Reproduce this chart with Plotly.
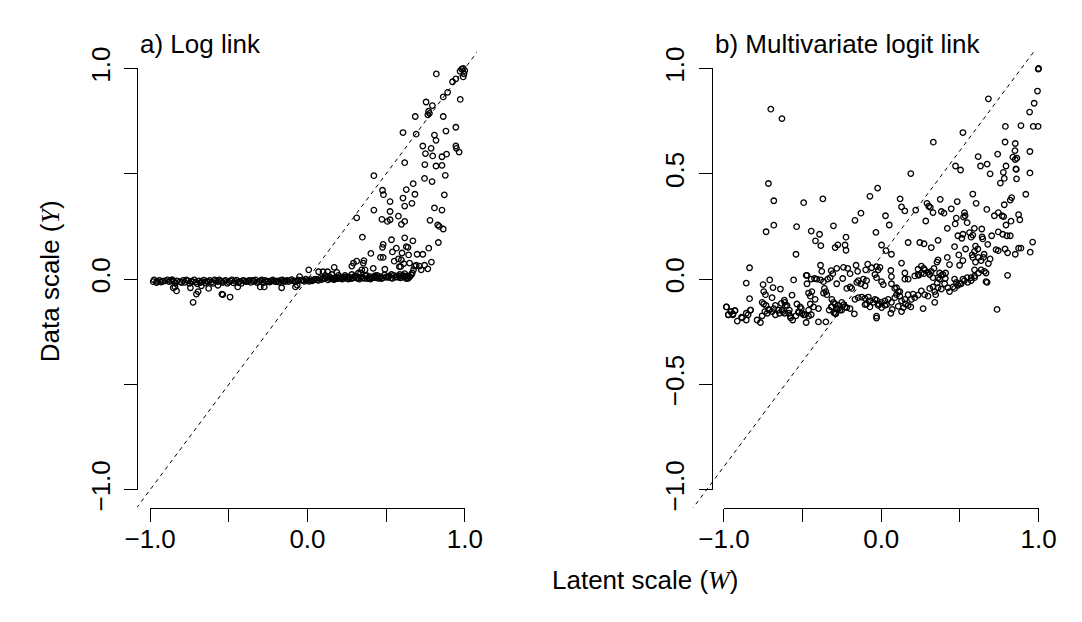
import plotly.graph_objects as go

W, H = 1082, 622
FONT = "Liberation Sans, Arial, Helvetica, sans-serif"

# ---------------- data ----------------
log_band = [(-0.98,-0.012),(-0.96,-0.016),(-0.94,-0.006),(-0.92,-0.01),(-0.89,-0.004),(-0.87,-0.008),(-0.85,-0.01),(-0.84,-0.02),
            (-0.81,-0.012),(-0.79,-0.006),(-0.78,-0.015),(-0.76,-0.008),(-0.75,-0.02),(-0.74,-0.01),(-0.72,-0.004),(-0.71,-0.014),
            (-0.70,-0.022),(-0.69,-0.008),(-0.67,-0.012),(-0.66,-0.005),(-0.65,-0.018),(-0.64,-0.01),(-0.62,-0.006),(-0.61,-0.014),
            (-0.60,-0.02),(-0.58,-0.008),(-0.57,-0.012),(-0.56,-0.004),(-0.54,-0.016),(-0.53,-0.01),(-0.52,-0.006),(-0.50,-0.014),
            (-0.49,-0.008),(-0.47,-0.018),(-0.46,-0.01),(-0.45,-0.005),(-0.43,-0.012),(-0.42,-0.02),(-0.40,-0.008),(-0.39,-0.012),
            (-0.37,-0.006),(-0.36,-0.015),(-0.34,-0.01),(-0.33,-0.004),(-0.31,-0.012),(-0.30,-0.008),(-0.28,-0.016),(-0.27,-0.006),
            (-0.25,-0.01),(-0.24,-0.014),(-0.22,-0.004),(-0.21,-0.01),(-0.19,-0.008),(-0.18,-0.014),(-0.16,-0.004),(-0.15,-0.01),
            (-0.13,-0.006),(-0.12,-0.012),(-0.10,-0.002),(-0.09,-0.008),(-0.07,-0.01),(-0.06,-0.004),(-0.05,0.012),(-0.04,-0.006),
            (-0.02,-0.01),(-0.01,0.0),(0.0,-0.006),(0.02,-0.002),(0.03,-0.008),(0.05,0.0),(0.06,-0.004),(0.08,0.004),(0.09,-0.002),
            (0.11,0.002),(0.12,0.008),(0.13,-0.004),(0.15,0.004),(0.16,0.0),(0.18,0.008),(0.19,0.002),(0.21,0.006),(0.22,0.0),
            (0.24,0.01),(0.25,0.004),(0.27,0.008),(0.28,0.002),(0.30,0.012),(0.31,0.006),(0.33,0.0),(0.34,0.01),(0.36,0.004),
            (0.37,0.014),(0.39,0.006),(0.40,0.0),(0.42,0.01),(0.43,0.016),(0.45,0.004),(0.46,0.012),(0.48,0.006),(0.49,0.02),
            (0.51,0.008),(0.52,0.014),(0.54,0.004),(0.55,0.018),(0.57,0.01),(0.59,0.006),(0.61,0.016),(0.62,0.01),(0.64,0.004),
            (0.65,0.012),
            (-0.975,-0.004),(-0.955,-0.01),(-0.93,-0.014),(-0.905,-0.008),(-0.88,-0.012),(-0.86,-0.003),(-0.83,-0.008),(-0.80,-0.016),
            (-0.77,-0.004),(-0.73,-0.012),(-0.68,-0.016),(-0.63,-0.012),(-0.59,-0.004),(-0.55,-0.01),(-0.51,-0.02),(-0.48,-0.004),
            (-0.44,-0.016),(-0.41,-0.006),(-0.38,-0.01),(-0.35,-0.006),(-0.32,-0.016),(-0.29,-0.004),(-0.26,-0.012),(-0.23,-0.008),
            (-0.20,-0.012),(-0.17,-0.006),(-0.14,-0.01),(-0.11,-0.006),(-0.08,-0.012),(-0.03,-0.004),(0.01,-0.01),(0.04,-0.004),
            (0.07,-0.006),(0.10,0.004),(0.14,0.002),(0.17,-0.002),(0.20,0.004),(0.23,0.004),(0.26,0.0),(0.29,0.006),(0.32,0.004),
            (0.35,0.006),(0.38,0.002),(0.41,0.006),(0.44,0.008),(0.47,0.002),(0.50,0.01),(0.53,0.006),(0.56,0.01),(0.58,0.014),
            (0.60,0.008),(0.63,0.014),(0.66,0.02),
            (0.113,0.018),(0.141,0.012),(0.155,0.022),(0.176,0.003),(0.197,0.018),(0.218,0.007),(0.239,0.018),(0.261,0.010),
            (0.282,0.022),(0.303,0.015),(0.324,0.029),(0.376,0.018),(0.397,0.012),(0.429,0.007),(0.443,0.018),(0.460,0.007),
            (0.513,0.012),(0.534,0.022)]
log_below = [(-0.842,-0.037),(-0.832,-0.056),(-0.853,-0.041),(-0.727,-0.110),(-0.695,-0.059),(-0.706,-0.071),(-0.744,-0.041),
             (-0.628,-0.044),(-0.538,-0.074),(-0.544,-0.071),(-0.492,-0.085),(-0.443,-0.037),(-0.164,-0.041),(-0.300,-0.037),
             (-0.275,-0.037),(-0.076,-0.037),(-0.065,-0.029),(-0.674,-0.032),(-0.569,-0.029)]
log_upper = [(0.819,0.974),(0.99,1.0),(0.98,0.997),(0.97,0.987),(1.0,0.99),(0.995,0.975),(0.99,0.96),(0.943,0.951),(0.922,0.937),
             (0.891,0.887),(0.863,0.865),(0.971,0.853),(0.754,0.841),(0.794,0.824),(0.77,0.797),(0.775,0.787),(0.765,0.78),
             (0.685,0.772),(0.863,0.772),(0.943,0.721),(0.880,0.703),(0.607,0.696),(0.691,0.688),(0.807,0.684),(0.817,0.659),
             (0.733,0.632),(0.786,0.621),(0.943,0.632),(0.947,0.621),(0.964,0.603),(0.750,0.596),(0.796,0.585),(0.855,0.581),
             (0.884,0.593),(0.618,0.553),(0.746,0.544),(0.817,0.537),(0.855,0.540),(0.422,0.491),(0.876,0.493),(0.744,0.478),
             (0.792,0.463),(0.672,0.453),(0.477,0.422),(0.628,0.425),(0.483,0.401),(0.683,0.403),(0.870,0.400),(0.607,0.385),
             (0.664,0.360),(0.525,0.368),(0.618,0.347),(0.807,0.338),(0.855,0.328),(0.422,0.328),(0.313,0.291),(0.525,0.321),
             (0.578,0.299),(0.473,0.284),(0.508,0.274),(0.525,0.282),(0.618,0.274),(0.597,0.260),(0.779,0.279),(0.828,0.257),
             (0.838,0.250),(0.863,0.238),(0.349,0.199),(0.618,0.196),(0.534,0.187),(0.670,0.182),(0.832,0.174),(0.481,0.165),
             (0.477,0.151),(0.565,0.147),(0.628,0.154),(0.639,0.151),(0.771,0.147),(0.540,0.129),(0.601,0.124),(0.403,0.122),
             (0.643,0.115),(0.697,0.118),(0.733,0.118),(0.464,0.103),(0.481,0.103),(0.578,0.096),(0.597,0.091),(0.551,0.085),
             (0.313,0.085),(0.359,0.088),(0.355,0.076),(0.612,0.074),(0.649,0.076),(0.788,0.081),(0.584,0.059),(0.592,0.059),
             (0.681,0.062),(0.691,0.066),(0.712,0.062),(0.744,0.066),(0.765,0.049),(0.282,0.062),(0.292,0.076),(0.170,0.056),
             (0.187,0.032),(0.008,0.044),(0.071,0.035),(0.099,0.035),(0.128,0.035),(0.418,0.051),(0.492,0.047),(0.345,0.044),
             (0.366,0.044),(0.338,0.029),(0.674,0.044),(0.666,0.029),(0.723,0.044),(0.618,0.026),(0.639,0.015),(0.649,0.012),
             (0.628,0.003),(0.586,0.022),(0.607,0.015)]

logit_upper = [(1.0,1.0),(0.998,0.997),(0.993,0.893),(0.972,0.835),(0.943,0.793),(0.681,0.856),(-0.702,0.807),(-0.631,0.762),
               (0.789,0.725),(0.888,0.729),(0.966,0.725),(0.997,0.725),(0.519,0.696),(0.331,0.650),(0.787,0.651),(0.852,0.644),
               (0.850,0.610),(0.945,0.606),(0.740,0.593),(0.616,0.582),(0.837,0.579),(0.852,0.568),(0.862,0.574),(0.673,0.546),
               (0.631,0.537),(0.793,0.537),(0.858,0.521),(0.856,0.523),(0.472,0.537),(0.504,0.518),(0.776,0.507),(0.945,0.504),
               (0.188,0.501),(0.692,0.500),(0.782,0.478),(0.757,0.456),(0.860,0.476),(-0.717,0.454),(-0.023,0.432),(-0.072,0.393),
               (0.919,0.403),(0.582,0.404),(-0.683,0.372),(-0.493,0.363),(-0.371,0.381),(0.120,0.381),(0.375,0.379),(0.483,0.368),
               (0.829,0.387),(0.820,0.375),(0.782,0.353),(0.291,0.360),(0.302,0.346),(0.312,0.341),(0.129,0.343),(0.150,0.324),
               (0.219,0.328),(0.445,0.334),(0.603,0.360),(0.671,0.331),(0.329,0.316),(0.382,0.321),(0.399,0.313),(0.529,0.316),
               (0.533,0.301),(0.523,0.294),(0.719,0.301),(0.744,0.316),(0.768,0.301),(0.778,0.297),(0.873,0.306),(0.881,0.282),
               (-0.129,0.313),(0.027,0.301),(-0.167,0.279),(0.477,0.290),(0.470,0.262),(0.283,0.276),(0.546,0.268),(0.825,0.275),
               (0.051,0.257),(0.793,0.257),(-0.683,0.256),(-0.732,0.225),(-0.538,0.249),(-0.304,0.253),(0.420,0.241),(0.592,0.241),
               (0.639,0.238),(-0.034,0.222),(-0.445,0.228),(-0.392,0.213),(0.519,0.213),(0.561,0.221),(0.571,0.199),(0.582,0.209),
               (0.744,0.224),(0.772,0.213),(0.799,0.206),(0.820,0.206),(0.702,0.206),(0.641,0.201),(0.645,0.191),(0.487,0.206),
               (0.512,0.194),(-0.224,0.199),(-0.418,0.182),(0.361,0.184),(0.171,0.174),(0.245,0.174),(0.272,0.168),(0.318,0.150),
               (-0.384,0.159),(-0.293,0.150),(-0.276,0.163),(-0.230,0.162),(-0.224,0.137),(0.677,0.165),(0.962,0.176),(0.002,0.162),
               (0.466,0.154),(0.599,0.157),(0.614,0.143),(0.593,0.132),(0.536,0.143),(0.730,0.140),(0.744,0.135),(0.787,0.143),
               (0.803,0.125),(0.873,0.147),(0.888,0.147),(0.852,0.118),(0.947,0.128),(0.030,0.135),(0.065,0.118),(-0.542,0.118),
               (0.493,0.115),(0.519,0.088),(0.498,0.066),(0.578,0.115),(0.582,0.103),(0.618,0.103),(0.635,0.088),(0.599,0.081),
               (0.593,0.044),(0.650,0.103),(0.654,0.118),(0.692,0.096),(0.681,0.074),(0.361,0.091),(0.354,0.081),(0.420,0.103),
               (0.434,0.069),(0.129,0.076),(0.255,0.062),(0.234,0.047),(0.270,0.051),(-0.160,0.066),(-0.150,0.037),(-0.386,0.066),
               (-0.283,0.051),(-0.240,0.056),(0.061,0.041),(0.065,0.012),(0.150,0.029),(0.297,0.032),(0.318,0.037),(0.335,0.051),
               (0.238,0.018),(0.272,0.026),(0.371,0.029),(0.382,0.018),(0.361,0.007),(0.409,0.029),(0.666,0.029),(0.673,-0.015),
               (0.803,0.018),(0.736,-0.144),(0.346,-0.074)]
logit_middle = [(-0.086,0.071),(-0.061,0.054),(-0.030,0.059),(-0.019,0.044),(-0.008,0.056),(-0.099,0.044),(-0.114,0.0),(-0.093,-0.007),
                (-0.040,0.022),(-0.030,0.007),(0.002,-0.012),(0.013,-0.026),(-0.129,-0.022),(-0.103,-0.032),(0.065,-0.022),
                (0.086,-0.044),(0.097,-0.041),(0.118,-0.059),(0.150,0.0),(0.171,0.0),(0.213,0.015),(0.234,0.022),(0.255,0.029),
                (0.276,0.044),(0.308,0.022),(0.329,0.007),(0.356,-0.018),(0.371,0.0),(0.392,0.022),(0.407,0.003),(0.466,0.0),
                (0.477,-0.015),(0.498,-0.022),(0.519,0.0),(0.546,0.007),(0.572,0.007),(0.593,0.015),(0.618,0.029),(0.635,0.044),
                (0.656,0.037),(0.666,-0.012),(-0.472,0.018),(-0.445,0.0),(-0.213,0.051),(-0.198,0.026),(-0.318,0.040),(-0.308,0.026),
                (-0.985,-0.132),(-0.972,-0.169),(-0.955,-0.154),(-0.943,-0.169),(-0.930,-0.150),(-0.858,-0.019),(-0.837,0.054),
                (-0.837,-0.093),(-0.831,-0.147),(-0.884,-0.184),(-0.858,-0.162),(-0.751,-0.026),(-0.709,-0.004),(-0.747,-0.059),
                (-0.736,-0.074),(-0.757,-0.110),(-0.747,-0.118),(-0.732,-0.125),(-0.715,-0.144),(-0.694,-0.154),(-0.688,-0.040),
                (-0.694,-0.088),(-0.673,-0.125),(-0.652,-0.147),(-0.635,-0.115),(-0.641,-0.047),(-0.616,-0.100),(-0.614,-0.110),
                (-0.609,-0.125),(-0.626,-0.154),(-0.588,-0.162),(-0.567,-0.076),(-0.557,-0.004),(-0.536,-0.118),(-0.515,-0.132),
                (-0.525,-0.154),(-0.504,-0.162),(-0.578,-0.176),(-0.477,0.018),(-0.472,-0.022),(-0.462,-0.066),(-0.451,-0.081),
                (-0.441,-0.059),(-0.424,0.003),(-0.409,0.0),(-0.386,-0.004),(-0.367,-0.012),(-0.340,0.0),(-0.325,0.007),
                (-0.378,0.037),(-0.361,-0.044),(-0.352,-0.059),(-0.367,-0.066),(-0.346,-0.074),(-0.420,-0.096),(-0.451,-0.118),
                (-0.430,-0.132),(-0.399,-0.140),(-0.462,-0.147),(-0.483,-0.169),(-0.314,-0.096),(-0.304,-0.110),(-0.293,-0.118),
                (-0.272,-0.125),(-0.251,-0.110),(-0.230,-0.132),(-0.318,-0.132),(-0.283,-0.140),(-0.262,-0.147),(-0.293,-0.162),
                (-0.245,0.003),(-0.283,-0.022),(-0.219,-0.044),(-0.198,-0.037),(-0.188,-0.044),(-0.156,-0.015),(-0.146,-0.007)]
logit_lower = [(-0.167,-0.096),(-0.146,-0.088),(-0.124,-0.085),(-0.103,-0.091),(-0.082,-0.085),(-0.072,-0.103),(-0.093,-0.118),
               (-0.051,-0.110),(-0.040,-0.096),(-0.030,-0.100),(-0.015,-0.118),(0.002,-0.110),(0.023,-0.103),(0.034,-0.121),
               (0.044,-0.096),(0.065,-0.110),(0.086,-0.088),(0.097,-0.074),(0.108,-0.059),(0.118,-0.081),(0.129,-0.103),
               (0.150,-0.096),(0.171,-0.074),(0.192,-0.096),(0.202,-0.071),(0.213,-0.088),(0.234,-0.076),(0.255,-0.056),
               (0.276,-0.074),(0.297,-0.081),(0.308,-0.044),(0.329,-0.037),(0.340,-0.059),(0.361,-0.041),(0.382,-0.047),
               (0.403,-0.022),(0.424,-0.041),(0.434,-0.059),(0.456,-0.037),(0.466,-0.044),(0.487,-0.029),(0.508,-0.022),
               (0.529,-0.007),(0.550,-0.015),(0.572,-0.007),(0.593,0.007),
               (-0.983,-0.132),(-0.972,-0.169),(-0.957,-0.154),(-0.943,-0.165),(-0.930,-0.150),(-0.915,-0.199),(-0.888,-0.181),
               (-0.858,-0.194),(-0.846,-0.169),(-0.831,-0.147),(-0.789,-0.194),(-0.768,-0.206),(-0.757,-0.174),(-0.740,-0.154),
               (-0.725,-0.162),(-0.711,-0.147),(-0.683,-0.140),(-0.673,-0.169),(-0.647,-0.162),(-0.631,-0.147),(-0.614,-0.162),
               (-0.599,-0.125),(-0.584,-0.147),(-0.576,-0.184),(-0.563,-0.194),(-0.542,-0.174),(-0.525,-0.159),(-0.508,-0.140),
               (-0.493,-0.169),(-0.477,-0.206),(-0.462,-0.176),(-0.445,-0.169),(-0.399,-0.203),(-0.352,-0.203),(-0.331,-0.147),
               (-0.314,-0.132),(-0.302,-0.159),(-0.289,-0.165),(-0.272,-0.140),(-0.251,-0.147),(-0.238,-0.121),(-0.219,-0.135),
               (-0.198,-0.140),(-0.171,-0.165),(-0.103,-0.121),(-0.072,-0.132),(-0.030,-0.176),(-0.030,-0.185),(-0.019,-0.125),
               (0.002,-0.135),(0.023,-0.125),(0.061,-0.162),(0.070,-0.144),(0.108,-0.129),(0.129,-0.154),(0.141,-0.135),
               (0.154,-0.118),(0.171,-0.125),(0.188,-0.132),(0.266,-0.140),(0.340,-0.110)]

# reference lines: y = x + intercept
ref_x = [-1.3, 1.3]
ref_intercept_a = 0.0
ref_intercept_b = 0.11

tick_vals = [-1.0, -0.5, 0.0, 0.5, 1.0]
x_tick_text = ["\u22121.0", "", "0.0", "", "1.0"]
y_tick_text_a = ["\u22121.0", "", "0.0", "", "1.0"]
y_tick_text_b = ["\u22121.0", "\u22120.5", "0.0", "0.5", "1.0"]

# ---------------- layout geometry (pixels) ----------------
def px(x):
    return x / W

def py(y):
    return 1 - y / H

AX0, BX0, XS = 293.4, 891.5, 164.0
Y0, YS = 276.7, 226.67
region_a = (116.0, 470.0)
region_b = (690.0, 1066.0)
region_y = (522.5, 31.7)

def xr(region, x0):
    return [(region[0] - x0) / XS, (region[1] - x0) / XS]

yrange = [(Y0 - region_y[0]) / YS, (Y0 - region_y[1]) / YS]

fig = go.Figure()

def split(pts):
    return [p[0] for p in pts], [p[1] for p in pts]

marker = dict(symbol="circle-open", size=5.5, color="black", line=dict(width=1.3, color="black"))

def add_ref(xa, ya, icpt):
    fig.add_trace(go.Scatter(x=ref_x, y=[v + icpt for v in ref_x], mode="lines",
                             line=dict(color="black", width=1, dash="4px,4px"),
                             xaxis=xa, yaxis=ya, hoverinfo="skip", showlegend=False))

add_ref("x", "y", ref_intercept_a)
add_ref("x2", "y2", ref_intercept_b)

for pts in (log_band, log_below, log_upper):
    xs, ys = split(pts)
    fig.add_trace(go.Scatter(x=xs, y=ys, mode="markers", marker=marker, xaxis="x", yaxis="y",
                             showlegend=False, cliponaxis=False))
for pts in (logit_upper, logit_middle, logit_lower):
    xs, ys = split(pts)
    fig.add_trace(go.Scatter(x=xs, y=ys, mode="markers", marker=marker, xaxis="x2", yaxis="y2",
                             showlegend=False, cliponaxis=False))

# empty traces so that the display axes (ticks from -1 to 1 only, R style) render
fig.add_trace(go.Scatter(x=[None], y=[None], xaxis="x3", yaxis="y3", showlegend=False, hoverinfo="skip"))
fig.add_trace(go.Scatter(x=[None], y=[None], xaxis="x4", yaxis="y4", showlegend=False, hoverinfo="skip"))

hidden = dict(visible=False, showgrid=False, zeroline=False, fixedrange=True)

tickfont = dict(family=FONT, size=26, color="black")
disp_common = dict(range=[-1, 1], tickmode="array", tickvals=tick_vals, ticks="outside", ticklen=13,
                   tickwidth=1, tickcolor="black", showline=True, linecolor="black", linewidth=1,
                   showgrid=False, zeroline=False, tickfont=tickfont, fixedrange=True)

fig.update_layout(
    width=W, height=H, margin=dict(l=0, r=0, t=0, b=0), autosize=False,
    paper_bgcolor="white", plot_bgcolor="rgba(0,0,0,0)", showlegend=False,
    xaxis=dict(domain=[px(region_a[0]), px(region_a[1])], range=xr(region_a, AX0), anchor="y", **hidden),
    yaxis=dict(domain=[py(region_y[0]), py(region_y[1])], range=yrange, anchor="x", **hidden),
    xaxis2=dict(domain=[px(region_b[0]), px(region_b[1])], range=xr(region_b, BX0), anchor="y2", **hidden),
    yaxis2=dict(domain=[py(region_y[0]), py(region_y[1])], range=yrange, anchor="x2", **hidden),
    xaxis3=dict(domain=[px(AX0 - XS), px(AX0 + XS)], anchor="free", position=py(region_y[0]),
                ticktext=x_tick_text, ticklabelstandoff=-5, **disp_common),
    yaxis3=dict(domain=[py(Y0 + YS), py(Y0 - YS)], anchor="free", position=px(region_a[0]),
                ticktext=y_tick_text_a, tickangle=-90, ticklabelstandoff=4, **disp_common),
    xaxis4=dict(domain=[px(BX0 - XS), px(BX0 + XS)], anchor="free", position=py(region_y[0]),
                ticktext=x_tick_text, ticklabelstandoff=-5, **disp_common),
    yaxis4=dict(domain=[py(Y0 + YS), py(Y0 - YS)], anchor="free", position=px(714.7),
                ticktext=y_tick_text_b, tickangle=-90, ticklabelstandoff=4, **disp_common),
)

serif = "font-family:'Liberation Serif', 'Times New Roman', serif"
ann_font = dict(family=FONT, size=26, color="black")
fig.add_annotation(text="a) Log link", x=px(116.5), y=py(23.5), xref="paper", yref="paper",
                   xanchor="left", yanchor="middle", showarrow=False, font=ann_font)
fig.add_annotation(text="b) Multivariate logit link", x=px(716.5), y=py(23.5), xref="paper", yref="paper",
                   xanchor="left", yanchor="middle", showarrow=False, font=ann_font)
fig.add_annotation(text=f"Data scale (<span style=\"{serif}\"><i>Y</i></span>)", x=px(25), y=py(279),
                   xref="paper", yref="paper", xanchor="center", yanchor="middle", textangle=-90,
                   showarrow=False, font=ann_font)
fig.add_annotation(text=f"Latent scale (<span style=\"{serif}\"><i>W</i></span>)", x=px(645.5), y=py(600),
                   xref="paper", yref="paper", xanchor="center", yanchor="middle",
                   showarrow=False, font=ann_font)

fig.write_html("out.html", config={"responsive": False},
               post_script="document.body.style.margin='0px';document.body.style.padding='0px';")
